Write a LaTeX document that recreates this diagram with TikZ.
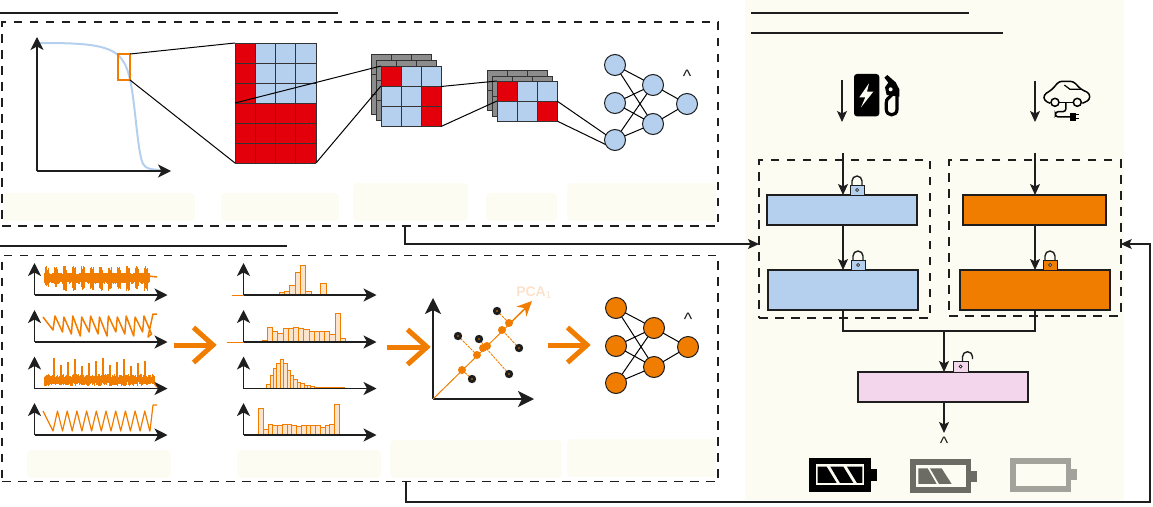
\documentclass[tikz,border=0pt]{standalone}
\usepackage{fontspec}
\setmainfont{Liberation Sans}
\usetikzlibrary{arrows.meta}
\definecolor{cblue}{HTML}{B4D0EE}
\definecolor{cred}{HTML}{E3000B}
\definecolor{corange}{HTML}{F07D00}
\definecolor{cpink}{HTML}{F4D6EC}
\definecolor{cpale}{HTML}{FDFCF3}
\definecolor{cgray}{HTML}{8C8C8C}
\definecolor{cdark}{HTML}{1E1E1E}
\definecolor{cbar}{HTML}{FBE3CC}
\definecolor{cpca}{HTML}{FBE2CC}
\definecolor{batmid}{HTML}{6C6C64}
\definecolor{batlight}{HTML}{A3A39B}
\tikzset{
  rule/.style={draw=cdark,line width=1.2pt},
  dbox/.style={draw=cdark,line width=1.7pt,dash pattern=on 8.5pt off 7.5pt,inner sep=0pt,outer sep=0pt},
  palebox/.style={fill=cpale,rounded corners=4pt},
  axis/.style={draw=cdark,line width=1.2pt,-{Stealth[length=13pt,width=13pt,inset=3.5pt]}},
  axisbig/.style={draw=cdark,line width=1.2pt,-{Stealth[length=16pt,width=16pt,inset=4pt]}},
  flow/.style={draw=cdark,line width=1.1pt,-{Stealth[length=11pt,width=10pt,inset=2.5pt]}},
  plain/.style={draw=cdark,line width=1.1pt},
  blk/.style={draw=cdark,line width=1.1pt,inner sep=0pt,outer sep=0pt},
  cell/.style={draw=black!80,line width=0.8pt},
  link/.style={draw=black,line width=1pt},
  neuron/.style={circle,draw=cdark,line width=1pt,minimum size=21pt,inner sep=0pt,outer sep=0pt},
  sig/.style={draw=corange,line width=1.5pt,line join=round},
  barr/.style={draw=corange,fill=cbar,line width=0.9pt},
  bigarr/.style={draw=corange,line width=5pt},
  hat/.style={font=\fontsize{18}{18}\selectfont,inner sep=0pt,text=cdark},
}
\newcommand{\axespair}[2]{%
  \draw[axis] (#1,#2) -- (#1,#2-32);
  \draw[axis] (#1,#2) -- (#1+133,#2);}
\newcommand{\hist}[4]{%
  \foreach \h [count=\i from 0] in {#4} {\draw[barr] ({#1+\i*#2},#3) rectangle ({#1+(\i+1)*#2},{#3-\h});}}
\newcommand{\nnet}[4]{%
  \node[neuron,fill=#4] (#1a) at (#2,#3) {};
  \node[neuron,fill=#4] (#1b) at (#2,#3+38) {};
  \node[neuron,fill=#4] (#1c) at (#2,#3+75) {};
  \node[neuron,fill=#4] (#1d) at (#2+38,#3+20) {};
  \node[neuron,fill=#4] (#1e) at (#2+38,#3+59) {};
  \node[neuron,fill=#4] (#1f) at (#2+72,#3+39) {};
  \foreach \s in {a,b,c} \foreach \t in {d,e} \draw[link] (#1\s) -- (#1\t);
  \draw[link] (#1d) -- (#1f);
  \draw[link] (#1e) -- (#1f);
  \node[hat] (#1h) at (#2+72,#3+11) {\textasciicircum};}
\newcommand{\lockicon}[3]{%
  \draw[cdark,line width=1.4pt] (#1+2,#2-10) -- (#1+2,#2-14) arc (180:360:5 and 5) -- (#1+12,#2-10);
  \draw[cdark,line width=0.9pt,fill=#3] (#1,#2-10) rectangle (#1+14,#2);
  \draw[cdark,line width=0.7pt,fill=white] (#1+7,#2-5) circle (1.5);}
\newcommand{\bigarrow}[3]{%
  \draw[bigarr] (#1,#2) -- (#3,#2);
  \draw[bigarr,line join=miter] (#3-20.5,#2-17.5) -- (#3-1,#2) -- (#3-20.5,#2+17.5);}
\newcommand{\gridlines}[6]{%
  \foreach \u in {0,...,#3} \draw[cell] ({#1+\u*#5},#2) -- ({#1+\u*#5},{#2+#4*#6});
  \foreach \v in {0,...,#4} \draw[cell] (#1,{#2+\v*#6}) -- ({#1+#3*#5},{#2+\v*#6});}
\begin{document}
\begin{tikzpicture}[x=1pt,y=-1pt]
\useasboundingbox (0,0) rectangle (1153,506);
\fill[cpale] (745,0) rectangle (1124,500);
\draw[rule] (0,13) -- (338,13);
\draw[rule] (0,246) -- (287,246);
\draw[rule] (751,13) -- (969,13);
\draw[rule] (751,33) -- (1003,33);
\foreach \a/\b/\c/\d in {3/193/195/221,221/193/339/221,353/183/468/221,486/193/557/221,567/183/716/221,27/450/171/478,237/450/381/478,390/440/562/478,567/439/716/477}
  \fill[palebox] (\a,\b) rectangle (\c,\d);
\node[dbox,minimum width=716pt,minimum height=204pt] (boxa) at (360,124) {};
\node[dbox,minimum width=716pt,minimum height=226pt] (boxb) at (360,368.5) {};
\node[dbox,minimum width=171pt,minimum height=158pt] (boxc) at (844.5,239) {};
\node[dbox,minimum width=171.5pt,minimum height=156pt] (boxd) at (1035,238) {};
\draw[cblue,line width=2pt] (40,43) .. controls (80,43) and (105,44) .. (118,55) .. controls (128,64) and (131,80) .. (134,105) .. controls (137,130) and (139,155) .. (143,164) .. controls (146,169) and (152,170) .. (165,170);
\draw[axis] (37,171) -- (37,37);
\draw[axis] (37,171) -- (171,171);
\draw[corange,line width=1.7pt] (118,54) rectangle (130,80);
\fill[cblue] (235,43) rectangle (316,163);
\fill[cred] (235,43) rectangle (255.25,103);
\fill[cred] (235,103) rectangle (316,163);
\gridlines{235}{43}{4}{6}{20.25}{20}
\draw[link] (130,54) -- (235,43);
\draw[link] (130,80) -- (235,163);
\fill[cgray] (371,54) rectangle (431,114);
\gridlines{371}{54}{3}{3}{20}{20}
\fill[cgray] (376,60) rectangle (436,120);
\gridlines{376}{60}{3}{3}{20}{20}
\fill[cblue] (381,66) rectangle (441,126);
\fill[cred] (381,66) rectangle (401,86);
\fill[cred] (421,86) rectangle (441,126);
\gridlines{381}{66}{3}{3}{20}{20}
\draw[link] (235,103) -- (381,66);
\draw[link] (316,163) -- (381,86);
\fill[cgray] (487,70) rectangle (547,110);
\gridlines{487}{70}{3}{2}{20}{20}
\fill[cgray] (492,76) rectangle (552,116);
\gridlines{492}{76}{3}{2}{20}{20}
\fill[cblue] (497,81) rectangle (557,121);
\fill[cred] (497,81) rectangle (517,101);
\fill[cred] (537,101) rectangle (557,121);
\gridlines{497}{81}{3}{2}{20}{20}
\draw[link] (441,86.5) -- (497,81);
\draw[link] (441,126.5) -- (497,101);
\nnet{nb}{615}{65}{cblue}
\nnet{no}{616}{308}{corange}
\draw[link] (557,101) -- (nbc.150);
\draw[link] (557,121) -- (nbc.205);
\pgfmathsetseed{7}
\foreach \i in {0,...,210} {
  \pgfmathsetmacro{\xx}{44+0.5*\i}
  \pgfmathsetmacro{\ph}{mod(\xx,9)}
  \pgfmathsetmacro{\tp}{\ph<3.5 ? 266+rnd*5 : 272.5+rnd*2}
  \pgfmathsetmacro{\bt}{\ph<3.5 ? (\xx<60 ? 284+rnd*3 : 286+rnd*5) : 281+rnd*3}
  \draw[corange,line width=0.9pt] (\xx,\tp) -- (\xx,\bt);
}
\draw[sig] (148,276) -- (157,277);
\draw[sig] (43,317) -- (53,330) \foreach \k in {0,...,10} { -- ({55+\k*8.9},{316+mod(\k,2)}) -- ({62.5+\k*8.9},{332+mod(\k,3)*2}) } -- (148,337) -- (153,314) -- (157,314);
\foreach \i in {0,...,220} {
  \pgfmathsetmacro{\xx}{44+0.5*\i}
  \pgfmathsetmacro{\tp}{374+rnd*4}
  \pgfmathsetmacro{\bt}{382+rnd*4}
  \draw[corange,line width=0.9pt] (\xx,\tp) -- (\xx,\bt);
}
\foreach \k in {0,...,13} \draw[corange,line width=1.3pt] ({54+\k*7},{358+mod(\k*5,7)*1.3}) -- ({54+\k*7},380);
\draw[sig] (150,378) -- (157,387);
\draw[sig,line width=1.2pt] (43,411) -- (53,431) \foreach \k in {0,...,9} { -- ({57.5+\k*9.7},411) -- ({62.5+\k*9.7},431) } -- (150,431) -- (153,405) -- (157,405);
\foreach \yy in {295,342,388.5,435} {\axespair{34.5}{\yy}}
\draw[corange,line width=1pt] (232,295) -- (243.5,295);
\draw[corange,line width=0.8pt] (227,342) -- (243.5,342);
\hist{263}{5.33}{295}{.3,.5,1,2.5,4,10,23,30,4,1,.5}
\draw[barr] (320.5,295) rectangle (326,283);
\hist{262.3}{5.2}{342}{2,15,11,8.5,13.5,14,14.5,13.5,12.5,11,11,11,11,7.5,29,3.5,1,.3}
\hist{266.7}{3.4}{388.5}{4,13,20,25,29,25,18,13,9,6,5,3.5,3,2,1.5,1.5,1,1,1,1,1,1,.8,.5,.3}
\hist{258.5}{4.75}{435}{26.5,6,11,10,10,11,10.5,10,9,10,9.5,10,10,8,10,11,30.5}
\foreach \yy in {295,342,388.5,435} {\axespair{243.5}{\yy}}
\bigarrow{174}{345}{214}
\bigarrow{387}{347}{428}
\bigarrow{548}{345}{588}
\draw[axisbig] (433,399) -- (433,298);
\draw[axisbig] (433,399) -- (534,399);
\draw[corange,line width=1pt] (433,399) -- (530,304);
\draw[corange,line width=1pt,-{Stealth[length=15pt,width=14pt,inset=5pt]}] (510,323) -- (532,301);
\foreach \a/\b/\c/\d in {497/311/509/323,458/336/477/355,479/339/485/347,519/348/502/330,509/374/485/347,472/379/462/370}
  \draw[corange,line width=0.9pt,dash pattern=on 2.5pt off 1pt] (\a,\b) -- (\c,\d);
\foreach \a/\b in {497/311,458/336,479/339,519/348,509/374,472/379} {
  \fill[cdark] (\a,\b) circle (4.2);
  \fill[corange] (\a,\b) circle (0.9);}
\foreach \a/\b in {462/370,477/355,483/348,487/346,502/330,509/323}
  \fill[corange] (\a,\b) circle (4);
\node[inner sep=0pt,text=cpca,font=\bfseries\fontsize{14}{14}\selectfont] (pca) at (534,293) {PCA$_{\mathrm{1}}$};
\node[blk,fill=cblue,minimum width=150pt,minimum height=30pt] (ba) at (842,210) {};
\node[blk,fill=corange,minimum width=143pt,minimum height=30pt] (oa) at (1034.5,210) {};
\node[blk,fill=cblue,minimum width=150pt,minimum height=40pt] (bb) at (843,290) {};
\node[blk,fill=corange,minimum width=150pt,minimum height=40pt] (ob) at (1035,290) {};
\node[blk,fill=cpink,minimum width=170pt,minimum height=30pt] (pk) at (943,387) {};
\coordinate (ca) at (842,80);
\coordinate (cb) at (842,122);
\coordinate (cc) at (1035,81);
\coordinate (cd) at (1035,122);
\coordinate (ia) at (843,153);
\coordinate (ib) at (1035,153);
\coordinate (jn) at (944,331);
\coordinate (out) at (944,433);
\coordinate (ex) at (405,226);
\coordinate (ey) at (406,482);
\draw[flow] (ca) -- (cb);
\draw[flow] (cc) -- (cd);
\draw[flow] (ia) -- (ia |- ba.north);
\draw[flow] (ib) -- (ib |- oa.north);
\draw[flow] (ia |- ba.south) -- (ia |- bb.north);
\draw[flow] (ib |- oa.south) -- (ib |- ob.north);
\draw[plain] (ia |- bb.south) -- (ia |- jn) -- (ib |- jn) -- (ib |- ob.south);
\draw[flow] (jn) -- (jn |- pk.north);
\draw[flow] (jn |- pk.south) -- (out);
\node[hat] (hatout) at (944,443) {\textasciicircum};
\draw[flow] (ex) -- (405,244) -- (boxc.west |- 0,244);
\draw[flow] (ey) -- (406,502) -- (1150,502) -- (1150,244) -- (boxd.east |- 0,244);
\lockicon{850}{195}{cblue}
\lockicon{851}{270}{cblue}
\lockicon{1043}{270}{corange}
\draw[cdark,line width=1.4pt] (962.5,361) -- (962.5,356.7) arc (180:360:5 and 5) -- (972.5,359);
\draw[cdark,line width=0.9pt,fill=cpink] (953,361) rectangle (968,372);
\draw[cdark,line width=0.7pt,fill=white] (960.5,366.5) circle (1.5);
\begin{scope}[shift={(745,0)},x=0.3333pt,y=-0.3333pt]
  \fill[black,rounded corners=3pt] (327,222) rectangle (403,349);
  \fill[cpale] (372,250) -- (343,292) -- (361,292) -- (348,322) -- (385,275) -- (366,275) -- cycle;
  \fill[black] (418,233) -- (427,225) -- (452,247) -- (463,268) -- (463,290) -- (425,285) -- (420,262) -- (430,248) -- cycle;
  \draw[black,line width=3.2pt,line cap=round] (456,270) -- (456,328) .. controls (456,350) and (424,350) .. (424,328) -- (424,308) .. controls (424,295) and (432,295) .. (440,285);
  \fill[cpale] (437,268) circle (6);
  \draw[black,line width=1.5pt,line join=round,rounded corners=3pt] (916,310) -- (898,302) -- (896,285) -- (922,268) -- (942,244) -- (985,244) -- (1008,268) -- (1034,280) -- (1034,300) -- (1012,310);
  \draw[black,line width=1.2pt] (958,255) -- (975,268) -- (1008,268);
  \draw[black,line width=1.5pt,fill=cpale] (930,307) circle (12);
  \draw[black,line width=1.5pt,fill=cpale] (997,307) circle (12);
  \draw[black,line width=1.5pt] (943,308) -- (984,308);
  \draw[black,line width=1.5pt,rounded corners=3pt] (963,308) -- (963,335) -- (931,335) -- (931,351) -- (975,351);
  \fill[black] (975,340) rectangle (992,362);
  \draw[black,line width=1pt] (992,345) -- (1003,345);
  \draw[black,line width=1pt] (992,357) -- (1003,357);
\end{scope}
\begin{scope}[shift={(745,250)},x=0.3333pt,y=-0.3333pt]
  \fill[black] (193,625) rectangle (378,725);
  \fill[black] (378,658) rectangle (395,692);
  \fill[cpale] (212,643) rectangle (358,705);
  \fill[black] (218,650) -- (245,650) -- (275,699) -- (218,699) -- cycle;
  \fill[black] (256,650) -- (295,650) -- (325,699) -- (285,699) -- cycle;
  \fill[black] (306,650) -- (352,650) -- (352,699) -- (336,699) -- cycle;
  \fill[batmid] (494,628) rectangle (679,730);
  \fill[batmid] (679,663) rectangle (695,696);
  \fill[cpale] (512,645) rectangle (662,712);
  \fill[batmid] (520,655) -- (548,655) -- (575,702) -- (520,702) -- cycle;
  \fill[batmid] (555,655) -- (590,655) -- (620,702) -- (582,702) -- cycle;
  \fill[batlight] (795,625) rectangle (979,725);
  \fill[batlight] (979,658) rectangle (996,691);
  \fill[cpale] (812,642) rectangle (962,707);
\end{scope}
\end{tikzpicture}
\end{document}
